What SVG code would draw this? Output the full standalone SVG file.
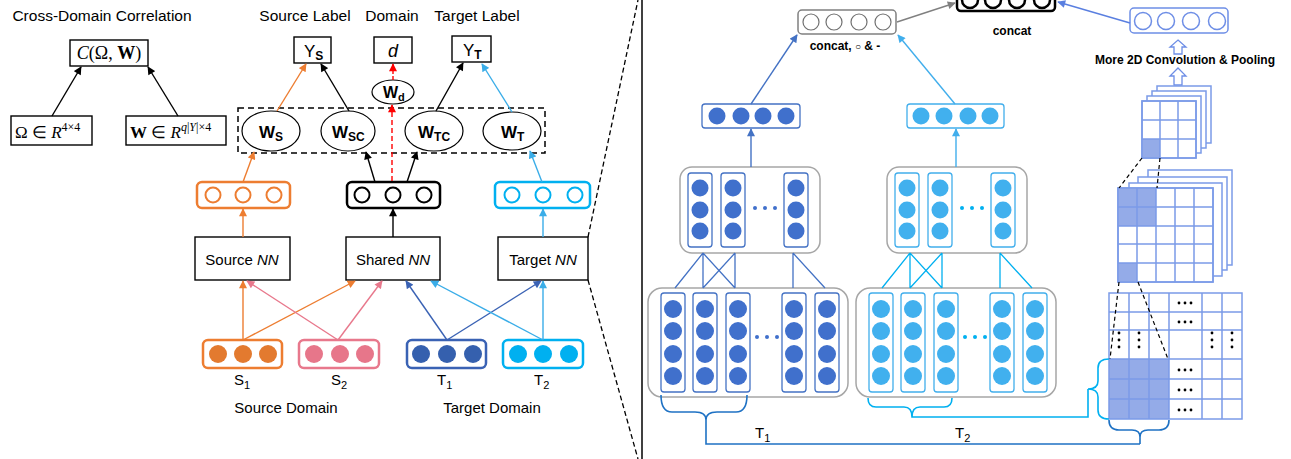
<svg xmlns="http://www.w3.org/2000/svg" width="1291" height="459" viewBox="0 0 1291 459">
<style>
.t{font-family:"Liberation Sans",Arial,sans-serif;fill:#000}
.lb{font-size:15.5px}
.m{font-family:"Liberation Serif","Times New Roman",serif;fill:#000}
.bx{fill:#fff;stroke:#000;stroke-width:1.4}
.el{fill:#fff;stroke:#000;stroke-width:1.2}
.ln{fill:none;stroke-width:1.4}
.or{stroke:#ED7D31}.pk{stroke:#E8788C}.db{stroke:#3A62B4}.lt{stroke:#3AADE8}.bk{stroke:#000}
.cd{fill:#4070CC}.cl{fill:#41B0EE}
.gc{fill:#fff;stroke:#7B9BE8;stroke-width:1.5}
.fl{fill:#94ABE8}
</style>
<defs>
<marker id="aK" viewBox="0 0 10 10" refX="9" refY="5" markerWidth="9" markerHeight="8" markerUnits="userSpaceOnUse" orient="auto"><path d="M0,0L10,5L0,10z" fill="#000"/></marker>
<marker id="aO" viewBox="0 0 10 10" refX="9" refY="5" markerWidth="9" markerHeight="8" markerUnits="userSpaceOnUse" orient="auto"><path d="M0,0L10,5L0,10z" fill="#ED7D31"/></marker>
<marker id="aP" viewBox="0 0 10 10" refX="9" refY="5" markerWidth="9" markerHeight="8" markerUnits="userSpaceOnUse" orient="auto"><path d="M0,0L10,5L0,10z" fill="#E8788C"/></marker>
<marker id="aD" viewBox="0 0 10 10" refX="9" refY="5" markerWidth="9" markerHeight="8" markerUnits="userSpaceOnUse" orient="auto"><path d="M0,0L10,5L0,10z" fill="#3A62B4"/></marker>
<marker id="aL" viewBox="0 0 10 10" refX="9" refY="5" markerWidth="9" markerHeight="8" markerUnits="userSpaceOnUse" orient="auto"><path d="M0,0L10,5L0,10z" fill="#3AADE8"/></marker>
<marker id="aR" viewBox="0 0 10 10" refX="9" refY="5" markerWidth="9" markerHeight="8" markerUnits="userSpaceOnUse" orient="auto"><path d="M0,0L10,5L0,10z" fill="#FF0000"/></marker>
<marker id="aG" viewBox="0 0 10 10" refX="9" refY="5" markerWidth="9" markerHeight="8" markerUnits="userSpaceOnUse" orient="auto"><path d="M0,0L10,5L0,10z" fill="#808080"/></marker>
<marker id="aV" viewBox="0 0 10 10" refX="9" refY="5" markerWidth="9" markerHeight="8" markerUnits="userSpaceOnUse" orient="auto"><path d="M0,0L10,5L0,10z" fill="#5A7FE0"/></marker>
<marker id="aB" viewBox="0 0 10 10" refX="9" refY="5" markerWidth="9" markerHeight="8" markerUnits="userSpaceOnUse" orient="auto"><path d="M0,0L10,5L0,10z" fill="#4472C4"/></marker>
<marker id="aS" viewBox="0 0 10 10" refX="9" refY="5" markerWidth="9" markerHeight="8" markerUnits="userSpaceOnUse" orient="auto"><path d="M0,0L10,5L0,10z" fill="#41AEEC"/></marker>
</defs>

<!-- headings -->
<text class="t lb" x="102" y="21" text-anchor="middle">Cross-Domain Correlation</text>
<text class="t lb" x="305" y="21" text-anchor="middle">Source Label</text>
<text class="t lb" x="392" y="21" text-anchor="middle">Domain</text>
<text class="t lb" x="477" y="21" text-anchor="middle">Target Label</text>

<g id="corr">
<rect class="bx" x="70" y="40" width="78" height="26"/>
<text class="m" x="109" y="59" font-size="18" text-anchor="middle"><tspan font-style="italic">C</tspan>(Ω, <tspan font-weight="bold">W</tspan>)</text>
</g>
<g id="omega">
<rect class="bx" x="11" y="116" width="81" height="29"/>
<text class="m" x="15" y="138" font-size="17">Ω ∈ <tspan font-style="italic">R</tspan><tspan font-size="12" dy="-7">4×4</tspan></text>
</g>
<g id="wmat">
<rect class="bx" x="126" y="116" width="100" height="29"/>
<text class="m" x="130" y="138" font-size="17"><tspan font-weight="bold">W</tspan> ∈ <tspan font-style="italic">R</tspan><tspan font-size="12" dy="-7"><tspan font-style="italic">q</tspan>|<tspan font-style="italic">Y</tspan>|×4</tspan></text>
</g>

<g id="ys"><rect class="bx" x="294" y="37" width="37" height="26"/><text class="t" x="304" y="57" font-size="17">Y<tspan font-size="12" font-weight="bold" dy="3">S</tspan></text></g>
<g id="dd"><rect class="bx" x="374" y="37" width="38" height="26"/><text class="t" x="393" y="57" font-size="18" font-style="italic" text-anchor="middle">d</text></g>
<g id="yt"><rect class="bx" x="452" y="36" width="39" height="26"/><text class="t" x="463" y="56" font-size="17">Y<tspan font-size="12" font-weight="bold" dy="3">T</tspan></text></g>

<g id="wd"><ellipse class="el" cx="393" cy="92" rx="21" ry="12"/><text class="t" x="383" y="98" font-size="16" font-weight="bold">W<tspan font-size="11" dy="3">d</tspan></text></g>
<rect x="238" y="108" width="307" height="45" fill="none" stroke="#000" stroke-width="1.5" stroke-dasharray="6,4"/>
<g id="ws"><ellipse class="el" cx="271" cy="131" rx="29" ry="20"/><text class="t" x="259" y="138" font-size="17" font-weight="bold">W<tspan font-size="12" dy="3">S</tspan></text></g>
<g id="wsc"><ellipse class="el" cx="348" cy="131" rx="27" ry="20"/><text class="t" x="332" y="138" font-size="17" font-weight="bold">W<tspan font-size="12" dy="3">SC</tspan></text></g>
<g id="wtc"><ellipse class="el" cx="434" cy="131" rx="29" ry="20"/><text class="t" x="418" y="138" font-size="17" font-weight="bold">W<tspan font-size="12" dy="3">TC</tspan></text></g>
<g id="wt"><ellipse class="el" cx="512" cy="131" rx="29" ry="19"/><text class="t" x="501" y="138" font-size="17" font-weight="bold">W<tspan font-size="12" dy="3">T</tspan></text></g>

<g id="hs"><rect x="197" y="182" width="93" height="26" rx="5" fill="#fff" stroke="#ED7D31" stroke-width="2.5"/><g fill="none" stroke="#ED7D31" stroke-width="2"><circle cx="213" cy="195" r="7.5"/><circle cx="243" cy="195" r="7.5"/><circle cx="274" cy="195" r="7.5"/></g></g>
<g id="hsh"><rect x="347" y="182" width="93" height="26" rx="5" fill="#fff" stroke="#000" stroke-width="2.5"/><g fill="none" stroke="#000" stroke-width="2"><circle cx="362" cy="195" r="7.5"/><circle cx="393" cy="195" r="7.5"/><circle cx="424" cy="195" r="7.5"/></g></g>
<g id="ht"><rect x="495" y="182" width="95" height="26" rx="5" fill="#fff" stroke="#00B0F0" stroke-width="2.5"/><g fill="none" stroke="#00B0F0" stroke-width="2"><circle cx="512" cy="195" r="7.5"/><circle cx="543" cy="195" r="7.5"/><circle cx="575" cy="195" r="7.5"/></g></g>

<g id="snn"><rect class="bx" x="195" y="237" width="95" height="43"/><text class="t" x="242" y="265" font-size="15" text-anchor="middle">Source <tspan font-style="italic">NN</tspan></text></g>
<g id="shnn"><rect class="bx" x="346" y="237" width="94" height="43"/><text class="t" x="393" y="265" font-size="15" text-anchor="middle">Shared <tspan font-style="italic">NN</tspan></text></g>
<g id="tnn"><rect class="bx" x="498" y="237" width="90" height="43"/><text class="t" x="543" y="265" font-size="15" text-anchor="middle">Target <tspan font-style="italic">NN</tspan></text></g>

<g id="s1"><rect x="203" y="340" width="79" height="28" rx="5" fill="#fff" stroke="#ED7D31" stroke-width="2.5"/><g fill="#E37A2F"><circle cx="218" cy="354" r="9"/><circle cx="243" cy="354" r="9"/><circle cx="268" cy="354" r="9"/></g><text class="t" x="234" y="385" font-size="15">S<tspan font-size="11" dy="4">1</tspan></text></g>
<g id="s2"><rect x="299" y="340" width="80" height="28" rx="5" fill="#fff" stroke="#E8788C" stroke-width="2.5"/><g fill="#E7768A"><circle cx="314" cy="354" r="9"/><circle cx="340" cy="354" r="9"/><circle cx="365" cy="354" r="9"/></g><text class="t" x="331" y="385" font-size="15">S<tspan font-size="11" dy="4">2</tspan></text></g>
<g id="t1"><rect x="407" y="340" width="79" height="28" rx="5" fill="#fff" stroke="#3A62B4" stroke-width="2.5"/><g fill="#3560AE"><circle cx="421" cy="354" r="9"/><circle cx="447" cy="354" r="9"/><circle cx="473" cy="354" r="9"/></g><text class="t" x="437" y="385" font-size="15">T<tspan font-size="11" dy="4">1</tspan></text></g>
<g id="t2"><rect x="503" y="340" width="80" height="28" rx="5" fill="#fff" stroke="#00B0F0" stroke-width="2.5"/><g fill="#00B0F0"><circle cx="518" cy="354" r="9"/><circle cx="543" cy="354" r="9"/><circle cx="569" cy="354" r="9"/></g><text class="t" x="534" y="385" font-size="15">T<tspan font-size="11" dy="4">2</tspan></text></g>
<text class="t" x="286" y="413" font-size="15" text-anchor="middle">Source Domain</text>
<text class="t" x="492" y="413" font-size="15" text-anchor="middle">Target Domain</text>

<g id="connectors-left" class="ln">
<line x1="52" y1="116" x2="81" y2="67" class="ln bk" marker-end="url(#aK)"/>
<line x1="178" y1="116" x2="148" y2="67" class="ln bk" marker-end="url(#aK)"/>
<line x1="243" y1="340" x2="243" y2="281" class="ln or" marker-end="url(#aO)"/>
<line x1="243" y1="340" x2="355" y2="281" class="ln or" marker-end="url(#aO)"/>
<line x1="338" y1="340" x2="247" y2="281" class="ln pk" marker-end="url(#aP)"/>
<line x1="338" y1="340" x2="382" y2="281" class="ln pk" marker-end="url(#aP)"/>
<line x1="447" y1="340" x2="406" y2="281" class="ln db" marker-end="url(#aD)"/>
<line x1="447" y1="340" x2="541" y2="281" class="ln db" marker-end="url(#aD)"/>
<line x1="543" y1="340" x2="543" y2="281" class="ln lt" marker-end="url(#aL)"/>
<line x1="543" y1="340" x2="431" y2="281" class="ln lt" marker-end="url(#aL)"/>
<line x1="243" y1="237" x2="243" y2="209" class="ln or" marker-end="url(#aO)"/>
<line x1="393" y1="237" x2="393" y2="209" class="ln bk" marker-end="url(#aK)"/>
<line x1="543" y1="237" x2="543" y2="209" class="ln lt" marker-end="url(#aL)"/>
<line x1="243" y1="182" x2="254" y2="152" class="ln or" marker-end="url(#aO)"/>
<line x1="375" y1="182" x2="366" y2="152" class="ln bk" marker-end="url(#aK)"/>
<line x1="407" y1="182" x2="417" y2="152" class="ln bk" marker-end="url(#aK)"/>
<line x1="542" y1="182" x2="530" y2="151" class="ln lt" marker-end="url(#aL)"/>
<line x1="392" y1="181" x2="392" y2="105" stroke="#FF0000" stroke-width="1.4" stroke-dasharray="5,3" marker-end="url(#aR)"/>
<line x1="393" y1="80" x2="393" y2="64" stroke="#FF0000" stroke-width="1.4" stroke-dasharray="4,2" marker-end="url(#aR)"/>
<line x1="277" y1="111" x2="306" y2="64" class="ln or" marker-end="url(#aO)"/>
<line x1="349" y1="111" x2="321" y2="64" class="ln bk" marker-end="url(#aK)"/>
<line x1="436" y1="111" x2="463" y2="63" class="ln bk" marker-end="url(#aK)"/>
<line x1="512" y1="112" x2="482" y2="64" class="ln lt" marker-end="url(#aL)"/>
</g>

<!-- divider -->
<g id="divider" fill="none" stroke="#000" stroke-width="1.3" stroke-dasharray="5,3">
<line x1="588" y1="237" x2="638" y2="0"/>
<line x1="588" y1="280" x2="638" y2="459"/>
</g>
<line x1="642" y1="0" x2="642" y2="459" stroke="#404040" stroke-width="2"/>

<!-- right panel -->
<g id="concat1">
<rect x="798" y="10" width="98" height="24" rx="4" fill="#fff" stroke="#808080" stroke-width="1.5"/>
<g fill="none" stroke="#707070" stroke-width="1.2"><circle cx="811" cy="22" r="8"/><circle cx="834" cy="22" r="8"/><circle cx="859" cy="22" r="8"/><circle cx="883" cy="22" r="8"/></g>
<text class="t" x="845" y="50" font-size="12" font-weight="bold" text-anchor="middle">concat, <tspan font-size="10" font-weight="normal">○</tspan> &amp; -</text>
</g>
<g id="concat2">
<rect x="957" y="-14" width="98" height="25" rx="4" fill="#fff" stroke="#000" stroke-width="2.5"/>
<g fill="none" stroke="#000" stroke-width="2.5"><circle cx="970" cy="0" r="8"/><circle cx="993" cy="0" r="8"/><circle cx="1017" cy="0" r="8"/><circle cx="1042" cy="0" r="8"/></g>
<text class="t" x="1012" y="35" font-size="12" font-weight="bold" text-anchor="middle">concat</text>
</g>
<g id="cnnout">
<rect x="1130" y="8" width="98" height="25" rx="4" fill="#fff" stroke="#6E8EE6" stroke-width="1.5"/>
<g fill="none" stroke="#6E8EE6" stroke-width="1.5"><circle cx="1143" cy="21" r="8.5"/><circle cx="1166" cy="21" r="8.5"/><circle cx="1191" cy="21" r="8.5"/><circle cx="1217" cy="21" r="8.5"/></g>
<path d="M1178,40L1186,47L1182,47L1182,54L1174,54L1174,47L1170,47Z" fill="#fff" stroke="#6E8EE6" stroke-width="1.3"/>
<text class="t" x="1185" y="64" font-size="12" font-weight="bold" text-anchor="middle">More 2D Convolution &amp; Pooling</text>
<path d="M1178,68L1186,76L1182,76L1182,85L1174,85L1174,76L1170,76Z" fill="#fff" stroke="#6E8EE6" stroke-width="1.3"/>
</g>

<g id="fmap-small">
<rect class="gc" x="1157" y="86" width="54" height="57"/>
<rect class="gc" x="1152" y="91" width="54" height="57"/>
<rect class="gc" x="1147" y="96" width="54" height="57"/>
<rect class="gc" x="1142" y="101" width="54" height="57"/>
<rect class="fl" x="1142" y="139" width="18" height="19"/>
<g stroke="#7B9BE8" stroke-width="1.5" fill="none"><path d="M1160,101V158M1178,101V158M1142,120H1196M1142,139H1196"/><rect x="1142" y="101" width="54" height="57"/></g>
</g>

<g id="fmap-mid">
<rect class="gc" x="1148" y="170" width="84" height="95"/>
<rect class="gc" x="1138" y="177" width="89" height="93"/>
<rect class="gc" x="1129" y="183" width="93" height="93"/>
<rect class="gc" x="1118" y="188" width="95" height="94"/>
<rect class="fl" x="1118" y="188" width="38" height="38"/>
<rect class="fl" x="1118" y="263" width="19" height="19"/>
<g stroke="#7B9BE8" stroke-width="1.5" fill="none"><path d="M1137,188V282M1156,188V282M1175,188V282M1194,188V282M1118,207H1213M1118,226H1213M1118,244H1213M1118,263H1213"/><rect x="1118" y="188" width="95" height="94"/></g>
</g>

<g id="fmap-big">
<rect x="1109" y="293" width="133" height="126" fill="#fff"/>
<rect class="fl" x="1109" y="359" width="60" height="60"/>
<g stroke="#7B9BE8" stroke-width="1.5" fill="none"><path d="M1129,293V419M1149,293V419M1169,293V419M1202,293V419M1222,293V419M1109,312H1242M1109,330H1242M1109,359H1242M1109,379H1242M1109,399H1242"/><rect x="1109" y="293" width="133" height="126"/></g>
<g fill="#000">
<circle cx="1179" cy="303" r="1.4"/><circle cx="1185" cy="303" r="1.4"/><circle cx="1191" cy="303" r="1.4"/>
<circle cx="1179" cy="322" r="1.4"/><circle cx="1185" cy="322" r="1.4"/><circle cx="1191" cy="322" r="1.4"/>
<circle cx="1179" cy="370" r="1.4"/><circle cx="1185" cy="370" r="1.4"/><circle cx="1191" cy="370" r="1.4"/>
<circle cx="1179" cy="390" r="1.4"/><circle cx="1185" cy="390" r="1.4"/><circle cx="1191" cy="390" r="1.4"/>
<circle cx="1179" cy="410" r="1.4"/><circle cx="1185" cy="410" r="1.4"/><circle cx="1191" cy="410" r="1.4"/>
<circle cx="1119" cy="333" r="1.4"/><circle cx="1119" cy="340" r="1.4"/><circle cx="1119" cy="347" r="1.4"/>
<circle cx="1139" cy="333" r="1.4"/><circle cx="1139" cy="340" r="1.4"/><circle cx="1139" cy="347" r="1.4"/>
<circle cx="1212" cy="333" r="1.4"/><circle cx="1212" cy="340" r="1.4"/><circle cx="1212" cy="347" r="1.4"/>
<circle cx="1232" cy="333" r="1.4"/><circle cx="1232" cy="340" r="1.4"/><circle cx="1232" cy="347" r="1.4"/>
</g>
</g>

<g id="zoom-lines" stroke="#000" stroke-width="1.2" stroke-dasharray="4,3" fill="none">
<line x1="1142" y1="158" x2="1119" y2="188"/>
<line x1="1160" y1="158" x2="1157" y2="188"/>
<line x1="1119" y1="282" x2="1110" y2="359"/>
<line x1="1138" y1="282" x2="1168" y2="359"/>
</g>

<!-- dark T1 CNN -->
<g id="t1vec">
<rect x="702" y="104" width="98" height="24" rx="3" fill="#fff" stroke="#4472C4" stroke-width="1.3"/>
<g class="cd"><circle cx="717" cy="116" r="8.5"/><circle cx="741" cy="116" r="8.5"/><circle cx="763" cy="116" r="8.5"/><circle cx="786" cy="116" r="8.5"/></g>
</g>
<g id="t1mid">
<rect x="680" y="167" width="140" height="86" rx="12" fill="#fff" stroke="#A6A6A6" stroke-width="1.5"/>
<g fill="none" stroke="#4472C4" stroke-width="1.3"><rect x="688" y="173" width="24" height="74" rx="3"/><rect x="721" y="173" width="24" height="74" rx="3"/><rect x="784" y="173" width="24" height="74" rx="3"/></g>
<g class="cd"><circle cx="700" cy="188" r="8.5"/><circle cx="700" cy="210" r="8.5"/><circle cx="700" cy="231" r="8.5"/><circle cx="733" cy="188" r="8.5"/><circle cx="733" cy="210" r="8.5"/><circle cx="733" cy="231" r="8.5"/><circle cx="796" cy="188" r="8.5"/><circle cx="796" cy="210" r="8.5"/><circle cx="796" cy="231" r="8.5"/><circle cx="755" cy="208" r="2"/><circle cx="765" cy="208" r="2"/><circle cx="775" cy="208" r="2"/></g>
</g>
<g id="t1low">
<rect x="648" y="288" width="200" height="109" rx="14" fill="#fff" stroke="#A6A6A6" stroke-width="1.5"/>
<g fill="none" stroke="#4472C4" stroke-width="1.3"><rect x="661" y="293" width="24" height="99" rx="3"/><rect x="693" y="293" width="24" height="99" rx="3"/><rect x="726" y="293" width="24" height="99" rx="3"/><rect x="782" y="293" width="24" height="99" rx="3"/><rect x="815" y="293" width="24" height="99" rx="3"/></g>
<g class="cd">
<circle cx="673" cy="309" r="9"/><circle cx="673" cy="331" r="9"/><circle cx="673" cy="354" r="9"/><circle cx="673" cy="376" r="9"/>
<circle cx="705" cy="309" r="9"/><circle cx="705" cy="331" r="9"/><circle cx="705" cy="354" r="9"/><circle cx="705" cy="376" r="9"/>
<circle cx="738" cy="309" r="9"/><circle cx="738" cy="331" r="9"/><circle cx="738" cy="354" r="9"/><circle cx="738" cy="376" r="9"/>
<circle cx="794" cy="309" r="9"/><circle cx="794" cy="331" r="9"/><circle cx="794" cy="354" r="9"/><circle cx="794" cy="376" r="9"/>
<circle cx="827" cy="309" r="9"/><circle cx="827" cy="331" r="9"/><circle cx="827" cy="354" r="9"/><circle cx="827" cy="376" r="9"/>
<circle cx="757" cy="337" r="2"/><circle cx="767" cy="337" r="2"/><circle cx="777" cy="337" r="2"/>
</g>
</g>

<!-- light T2 CNN -->
<g id="t2vec">
<rect x="907" y="104" width="97" height="24" rx="3" fill="#fff" stroke="#41AEEC" stroke-width="1.3"/>
<g class="cl"><circle cx="921" cy="116" r="8.5"/><circle cx="944" cy="116" r="8.5"/><circle cx="968" cy="116" r="8.5"/><circle cx="990" cy="116" r="8.5"/></g>
</g>
<g id="t2mid" transform="translate(207,0)">
<rect x="680" y="167" width="140" height="86" rx="12" fill="#fff" stroke="#A6A6A6" stroke-width="1.5"/>
<g fill="none" stroke="#41AEEC" stroke-width="1.3"><rect x="688" y="173" width="24" height="74" rx="3"/><rect x="721" y="173" width="24" height="74" rx="3"/><rect x="784" y="173" width="24" height="74" rx="3"/></g>
<g class="cl"><circle cx="700" cy="188" r="8.5"/><circle cx="700" cy="210" r="8.5"/><circle cx="700" cy="231" r="8.5"/><circle cx="733" cy="188" r="8.5"/><circle cx="733" cy="210" r="8.5"/><circle cx="733" cy="231" r="8.5"/><circle cx="796" cy="188" r="8.5"/><circle cx="796" cy="210" r="8.5"/><circle cx="796" cy="231" r="8.5"/></g>
<g fill="#00B0F0"><circle cx="755" cy="208" r="2"/><circle cx="765" cy="208" r="2"/><circle cx="775" cy="208" r="2"/></g>
</g>
<g id="t2low" transform="translate(208,0)">
<rect x="648" y="288" width="200" height="109" rx="14" fill="#fff" stroke="#A6A6A6" stroke-width="1.5"/>
<g fill="none" stroke="#41AEEC" stroke-width="1.3"><rect x="661" y="293" width="24" height="99" rx="3"/><rect x="693" y="293" width="24" height="99" rx="3"/><rect x="726" y="293" width="24" height="99" rx="3"/><rect x="782" y="293" width="24" height="99" rx="3"/><rect x="815" y="293" width="24" height="99" rx="3"/></g>
<g class="cl">
<circle cx="673" cy="309" r="9"/><circle cx="673" cy="331" r="9"/><circle cx="673" cy="354" r="9"/><circle cx="673" cy="376" r="9"/>
<circle cx="705" cy="309" r="9"/><circle cx="705" cy="331" r="9"/><circle cx="705" cy="354" r="9"/><circle cx="705" cy="376" r="9"/>
<circle cx="738" cy="309" r="9"/><circle cx="738" cy="331" r="9"/><circle cx="738" cy="354" r="9"/><circle cx="738" cy="376" r="9"/>
<circle cx="794" cy="309" r="9"/><circle cx="794" cy="331" r="9"/><circle cx="794" cy="354" r="9"/><circle cx="794" cy="376" r="9"/>
<circle cx="827" cy="309" r="9"/><circle cx="827" cy="331" r="9"/><circle cx="827" cy="354" r="9"/><circle cx="827" cy="376" r="9"/>
</g>
<g fill="#00B0F0"><circle cx="757" cy="337" r="2"/><circle cx="767" cy="337" r="2"/><circle cx="777" cy="337" r="2"/></g>
</g>

<text class="t" x="755" y="438" font-size="15">T<tspan font-size="11" dy="4">1</tspan></text>
<text class="t" x="955" y="438" font-size="15">T<tspan font-size="11" dy="4">2</tspan></text>

<g id="connectors-right" fill="none">
<g stroke="#4472C4" stroke-width="1.3"><path d="M703,253L675,288M703,253V288M703,253L735,288M735,253L703,288M735,253V288M793,253V288M793,253L825,288"/></g>
<g stroke="#00B0F0" stroke-width="1.3" transform="translate(207,0)"><path d="M703,253L675,288M703,253V288M703,253L735,288M735,253L703,288M735,253V288M793,253V288M793,253L825,288"/></g>
<line x1="751" y1="167" x2="751" y2="129" stroke="#4472C4" stroke-width="1.4" marker-end="url(#aB)"/>
<line x1="751" y1="104" x2="797" y2="35" stroke="#4472C4" stroke-width="1.4" marker-end="url(#aB)"/>
<line x1="956" y1="167" x2="956" y2="129" stroke="#41AEEC" stroke-width="1.4" marker-end="url(#aS)"/>
<line x1="955" y1="104" x2="898" y2="35" stroke="#41AEEC" stroke-width="1.4" marker-end="url(#aS)"/>
<line x1="897" y1="22" x2="955" y2="3" stroke="#808080" stroke-width="1.4" marker-end="url(#aG)"/>
<line x1="1130" y1="23" x2="1058" y2="2" stroke="#5A7FE0" stroke-width="1.4" marker-end="url(#aV)"/>
<path d="M661,395Q661,412 672,412L695,412Q706,412 706,420L706,444L1140,444M747,395Q747,412 736,412L717,412Q706,412 706,420" stroke="#1F72C4" stroke-width="1.6"/>
<path d="M1109,420Q1109,430 1119,430L1132,430Q1140,430 1140,437L1140,444M1169,420Q1169,430 1159,430L1148,430Q1140,430 1140,437" stroke="#1F72C4" stroke-width="1.6"/>
<path d="M868,398Q868,407 876,407L904,407Q912,407 912,417L1088,417L1088,389M952,398Q952,407 944,407L920,407Q912,407 912,417" stroke="#00B0F0" stroke-width="1.6"/>
<path d="M1109,359Q1098,359 1098,368L1098,381Q1098,389 1088,389Q1098,389 1098,397L1098,410Q1098,419 1109,419" stroke="#00B0F0" stroke-width="1.6"/>
</g>
</svg>
